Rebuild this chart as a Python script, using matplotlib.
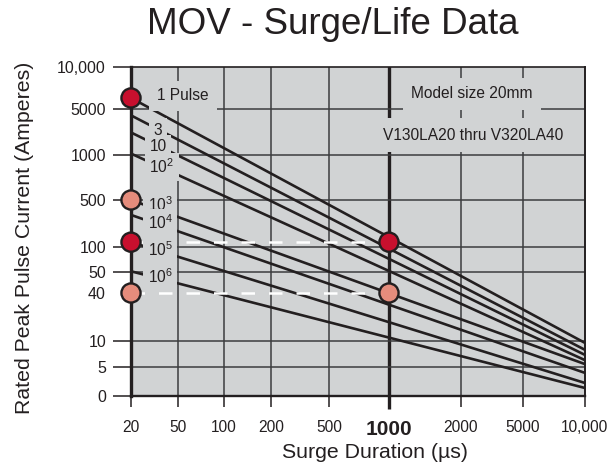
import numpy as np
import matplotlib
matplotlib.use('Agg')
import matplotlib.pyplot as plt

plt.rcParams['font.family'] = ['Liberation Sans', 'DejaVu Sans']
plt.rcParams['mathtext.fontset'] = 'custom'
plt.rcParams['mathtext.rm'] = 'Liberation Sans'

# ---------------- data ----------------
x_ticks = [20, 50, 100, 200, 500, 1000, 2000, 5000, 10000]
x_tick_labels = ['20', '50', '100', '200', '500', '1000', '2000', '5000', '10,000']
y_ticks = [0, 5, 10, 40, 50, 100, 500, 1000, 5000, 10000]
y_tick_labels = ['0', '5', '10', '40', '50', '100', '500', '1000', '5000', '10,000']

pulse_labels = ['1 Pulse', '3', '10', r'$\mathregular{10^2}$', r'$\mathregular{10^3}$',
                r'$\mathregular{10^4}$', r'$\mathregular{10^5}$', r'$\mathregular{10^6}$']
line_durations = [20, 10000]
current_at_20us = [6000, 4000, 2200, 1050, 500, 300, 118, 51]
current_at_10000us = [9.5, 7.9, 6.9, 6.0, 5.4, 3.6, 2.06, 1.56]

marker_duration = [20, 20, 20, 20, 1000, 1000]
marker_current = [6000, 500, 118, 40, 118, 40]
marker_kind = ['dark', 'light', 'dark', 'light', 'dark', 'light']

ref_currents = [118, 40]
ref_durations = [20, 1000]

# ---------------- layout (distorted printed scales) ----------------
x_tick_frac = np.array([0, 47, 93, 140, 198, 258, 330, 392, 454]) / 454.0
y_tick_frac = (396 - np.array([396, 367, 341, 293, 272, 247, 200, 155, 109, 67])) / 329.0
x_g = np.log10(np.array(x_ticks, dtype=float))
y_g = np.log10(np.clip(np.array(y_ticks, dtype=float), 1, None))


def xf(v):
    return np.interp(np.log10(np.clip(np.asarray(v, dtype=float), 1e-9, None)), x_g, x_tick_frac)


def xi(p):
    return 10 ** np.interp(np.asarray(p, dtype=float), x_tick_frac, x_g)


def yf(v):
    return np.interp(np.log10(np.clip(np.asarray(v, dtype=float), 1, None)), y_g, y_tick_frac)


def yi(p):
    return 10 ** np.interp(np.asarray(p, dtype=float), y_tick_frac, y_g)


ink = '#231f20'
gridc = '#3c3c3e'
bg = '#d1d3d4'
dark_red = '#c8102e'
salmon = '#e58c7c'

fig = plt.figure(figsize=(6.16, 4.67), dpi=100)
ax = fig.add_axes([131 / 616, 1 - 396 / 467, 454 / 616, 329 / 467])
ax.set_facecolor(bg)
ax.set_xscale('function', functions=(xf, xi))
ax.set_yscale('function', functions=(yf, yi))
ax.set_xlim(20, 10000)
ax.set_ylim(0, 10000)

# grid
for v in x_ticks[1:-1]:
    ax.axvline(v, color=ink if v == 1000 else gridc, lw=2.4 if v == 1000 else 1.1, zorder=1)
for v in [5, 10, 50, 100, 500, 1000, 5000]:
    ax.axhline(v, color=gridc, lw=1.1, zorder=1)

# life curves
for a, b in zip(current_at_20us, current_at_10000us):
    ax.plot(line_durations, [a, b], color=ink, lw=1.9, solid_capstyle='butt', zorder=2)

# reference dashed lines
for v in ref_currents:
    ax.plot(ref_durations, [v, v], color='white', lw=1.8, dashes=(5.4, 5.6), zorder=3)

# curve labels
label_pos = [(0.1145, 0.912), (0.0595, 0.8085), (0.0595, 0.757), (0.068, 0.696),
             (0.064, 0.5805), (0.064, 0.526), (0.064, 0.444), (0.064, 0.362)]
for lab, (px, py) in zip(pulse_labels, label_pos):
    pad = 0.5 if lab == '1 Pulse' else 0.3
    ax.text(px, py, lab, transform=ax.transAxes, ha='center', va='center', fontsize=11.2,
            color=ink, zorder=4,
            bbox=dict(boxstyle='square,pad=%s' % pad, facecolor=bg, edgecolor='none'))

ax.text(0.751, 0.918, 'Model size 20mm', transform=ax.transAxes, ha='center', va='center',
        fontsize=11.2, color=ink, zorder=4,
        bbox=dict(boxstyle='square,pad=0.55', facecolor=bg, edgecolor='none'))
ax.text(0.753, 0.793, 'V130LA20 thru V320LA40', transform=ax.transAxes, ha='center', va='center',
        fontsize=11.2, color=ink, zorder=4,
        bbox=dict(boxstyle='square,pad=0.6', facecolor=bg, edgecolor='none'))

# markers
cols = [dark_red if k == 'dark' else salmon for k in marker_kind]
ax.scatter(marker_duration, marker_current, s=190, c=cols, edgecolors=ink, linewidths=1.7,
           zorder=6, clip_on=False)

# ticks
ax.set_xticks(x_ticks)
ax.set_xticklabels(x_tick_labels)
ax.set_yticks(y_ticks)
ax.set_yticklabels(y_tick_labels)
ax.minorticks_off()
ax.tick_params(axis='y', direction='out', length=13, width=1.1, pad=5, labelsize=11.5,
               colors=ink)
ax.tick_params(axis='x', direction='out', length=8, width=1.1, pad=9, labelsize=11.2,
               colors=ink)
for t, lab in zip(ax.xaxis.get_major_ticks(), x_tick_labels):
    if lab == '1000':
        t.tick1line.set_markeredgewidth(2.4)
        t.tick1line.set_markersize(9)
        t.label1.set_fontweight('bold')
        t.label1.set_fontsize(15)
for t, lab in zip(ax.yaxis.get_major_ticks(), y_tick_labels):
    if lab == '40':
        t.tick1line.set_visible(False)

for side, lw in [('left', 2.4), ('bottom', 1.7), ('top', 1.2), ('right', 1.4)]:
    ax.spines[side].set_linewidth(lw)
    ax.spines[side].set_color(ink)
    ax.spines[side].set_zorder(5)

fig.text(333 / 616, 1 - 25 / 467, 'MOV - Surge/Life Data', fontsize=26.5, ha='center', va='center',
         color=ink)
fig.text(375 / 616, 1 - 453 / 467, 'Surge Duration (µs)', fontsize=15.3, ha='center', va='center',
         color=ink)
fig.text(25 / 616, 1 - 238 / 467, 'Rated Peak Pulse Current (Amperes)', fontsize=15.3,
         rotation=90, ha='center', va='center', color=ink)

fig.savefig('out.png', dpi=100)
